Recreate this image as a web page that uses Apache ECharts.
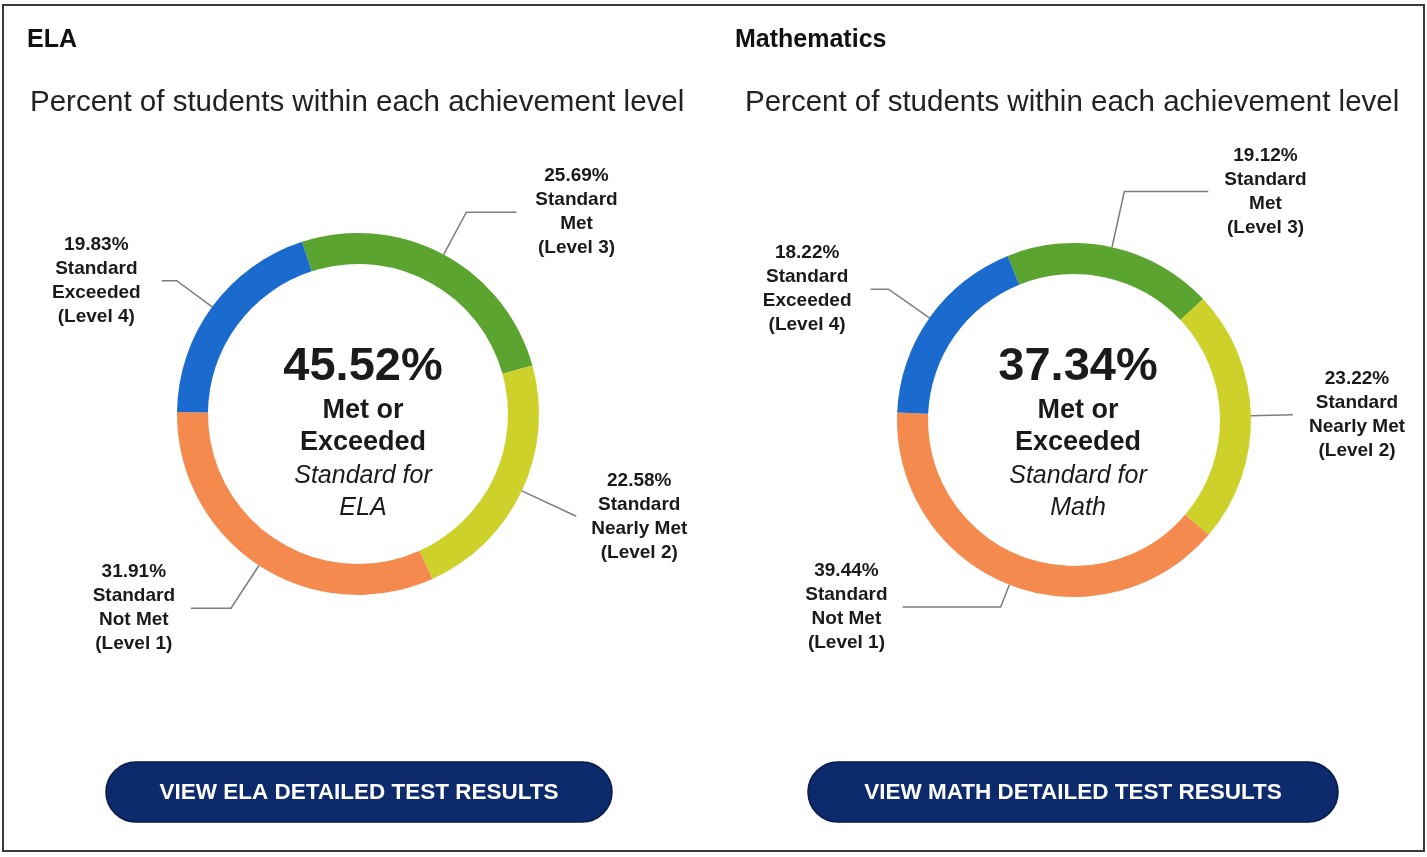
<!DOCTYPE html>
<html>
<head>
<meta charset="utf-8">
<title>Achievement levels</title>
<script src="https://cdn.jsdelivr.net/npm/echarts@6/dist/echarts.min.js"></script>
<style>
  html, body { margin: 0; padding: 0; background: #fff; }
  #chart { width: 1427px; height: 857px; }
</style>
</head>
<body>
<div id="chart"></div>
<script>
// slice order is clockwise from the top: Met, Nearly Met, Not Met, Exceeded
const levelNames = ['Met', 'Nearly Met', 'Not Met', 'Exceeded'];
const levelNums = [3, 2, 1, 4];
const elaValues = [25.69, 22.58, 31.91, 19.83];
const mathValues = [19.12, 23.22, 39.44, 18.22];
const subjects = ['ELA', 'Mathematics'];
const shortNames = ['ELA', 'Math'];
const buttonLabels = ['VIEW ELA DETAILED TEST RESULTS', 'VIEW MATH DETAILED TEST RESULTS'];

const levelColors = ['#5ba42f', '#cdd12a', '#f58a4f', '#1a6bcd'];
const font = '"Liberation Sans", Arial, sans-serif';

// leader line tuning per slice: [length, length2, gap to text]
const elaLines = [[48, 50, 19], [60, 0, 15], [51, 40, 16], [44, 15, 21]];
const mathLines = [[57, 84, 16], [42, 0, 16], [24, 98, 15], [50, 18, 19]];

const donut = (values, lines, center, radius, startAngle) => ({
  type: 'pie',
  center: center,
  radius: radius,
  startAngle: startAngle,
  silent: true,
  avoidLabelOverlap: false,
  itemStyle: { borderWidth: 0 },
  emphasis: { disabled: true },
  label: {
    show: true,
    position: 'outside',
    bleedMargin: 2,
    formatter: (p) => [
      '{a|' + p.value.toFixed(2) + '%}',
      '{a|Standard}',
      '{a|' + levelNames[p.dataIndex] + '}',
      '{a|(Level ' + levelNums[p.dataIndex] + ')}',
    ].join('\n'),
    rich: {
      a: { align: 'center', fontFamily: font, fontWeight: 'bold', fontSize: 19, lineHeight: 24, color: '#1a1a1a' },
    },
  },
  labelLine: { show: true, lineStyle: { color: '#7d7d7d', width: 1.5 } },
  data: values.map((v, i) => ({
    value: v,
    name: levelNames[i],
    itemStyle: { color: levelColors[i] },
    labelLine: { length: lines[i][0], length2: lines[i][1] },
    label: { distanceToLabelLine: lines[i][2] },
  })),
});

// centre text of each donut
const centreText = (cx, values, shortName) => {
  const pct = (values[0] + values[3]).toFixed(2) + '%';
  const rows = [
    { t: pct, y: 367, size: 47, weight: 'bold', style: 'normal' },
    { t: 'Met or', y: 411, size: 27, weight: 'bold', style: 'normal' },
    { t: 'Exceeded', y: 443, size: 27, weight: 'bold', style: 'normal' },
    { t: 'Standard for', y: 476, size: 25, weight: 'normal', style: 'italic' },
    { t: shortName, y: 508, size: 25, weight: 'normal', style: 'italic' },
  ];
  return rows.map((r) => ({
    type: 'text',
    x: cx,
    y: r.y,
    silent: true,
    style: {
      text: r.t,
      fill: '#1a1a1a',
      font: r.style + ' ' + r.weight + ' ' + r.size + 'px ' + font,
      align: 'center',
      verticalAlign: 'middle',
    },
  }));
};

const button = (x, w, label) => [
  {
    type: 'rect',
    silent: true,
    shape: { x: x, y: 762, width: w, height: 60, r: 30 },
    style: { fill: '#0d2a6c', stroke: '#071a48', lineWidth: 1.5 },
  },
  {
    type: 'text',
    silent: true,
    x: x + w / 2,
    y: 793,
    style: {
      text: label,
      fill: '#ffffff',
      font: 'bold 22.5px ' + font,
      align: 'center',
      verticalAlign: 'middle',
    },
  },
];

const subTitle = 'Percent of students within each achievement level';

const chart = echarts.init(document.getElementById('chart'));
chart.setOption({
  animation: false,
  backgroundColor: '#ffffff',
  title: [
    { text: subjects[0], left: 27, top: 28, padding: 0, textStyle: { fontFamily: font, fontSize: 25, fontWeight: 'bold', color: '#111' } },
    { text: subjects[1], left: 735, top: 28, padding: 0, textStyle: { fontFamily: font, fontSize: 25, fontWeight: 'bold', color: '#111' } },
    { text: subTitle, left: 30, top: 88, padding: 0, textStyle: { fontFamily: font, fontSize: 29.5, fontWeight: 'normal', color: '#222' } },
    { text: subTitle, left: 745, top: 88, padding: 0, textStyle: { fontFamily: font, fontSize: 29.5, fontWeight: 'normal', color: '#222' } },
  ],
  series: [
    donut(elaValues, elaLines, [358, 414], [150, 181], 108),
    donut(mathValues, mathLines, [1074, 420], [146, 177], 112),
  ],
  graphic: [
    {
      type: 'rect',
      silent: true,
      shape: { x: 3, y: 5, width: 1421, height: 846 },
      style: { fill: 'none', stroke: '#3a3a3a', lineWidth: 2 },
    },
    ...centreText(363, elaValues, shortNames[0]),
    ...centreText(1078, mathValues, shortNames[1]),
    ...button(106, 506, buttonLabels[0]),
    ...button(808, 530, buttonLabels[1]),
  ],
});
</script>
</body>
</html>
